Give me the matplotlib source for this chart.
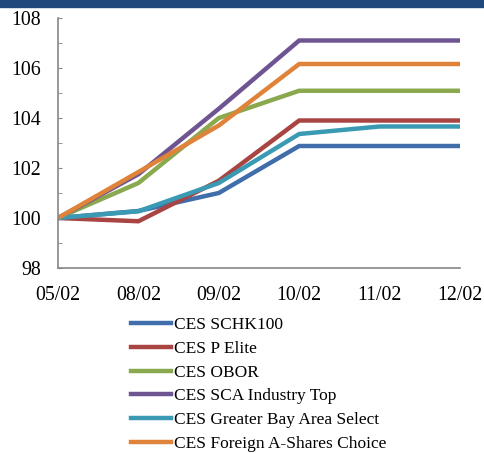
import matplotlib.pyplot as plt
from matplotlib.ticker import MultipleLocator
from matplotlib.patches import Rectangle

# data
dates = ['05/02', '08/02', '09/02', '10/02', '11/02', '12/02']
schk100 = [100, 100.28, 101.0, 102.88, 102.88, 102.88]
p_elite = [100, 99.87, 101.49, 103.9, 103.9, 103.9]
obor = [100, 101.4, 104.0, 105.09, 105.09, 105.09]
sca_top = [100, 101.75, 104.37, 107.1, 107.1, 107.1]
gba_select = [100, 100.27, 101.4, 103.36, 103.66, 103.66]
foreign_a = [100, 101.84, 103.7, 106.16, 106.16, 106.16]

series = [
    ('CES SCHK100', schk100, '#3F6EAA'),
    ('CES P Elite', p_elite, '#A84442'),
    ('CES OBOR', obor, '#8AA84E'),
    ('CES SCA Industry Top', sca_top, '#6E5592'),
    ('CES Greater Bay Area Select', gba_select, '#3A9AB4'),
    ('CES Foreign A-Shares Choice', foreign_a, '#E0833A'),
]

plt.rcParams['font.family'] = ['Liberation Serif', 'DejaVu Serif']

fig = plt.figure(figsize=(4.84, 4.53), dpi=100)
ax = fig.add_axes([58 / 484, 1 - 268 / 453, (460 - 58) / 484, 250 / 453])

x = range(len(dates))
for name, vals, col in series:
    ax.plot(x, vals, color=col, lw=3.2, label=name, solid_joinstyle='miter')

ax.set_xlim(0, len(dates) - 1)
ax.set_ylim(98, 108)
ax.set_xticks(list(x))
ax.set_xticklabels(dates)
ax.yaxis.set_major_locator(MultipleLocator(2))
ax.yaxis.set_minor_locator(MultipleLocator(1))
ax.tick_params(axis='y', which='both', direction='in', length=3, color='#868686',
               labelsize=14.3, pad=12)
ax.tick_params(axis='x', length=0, labelsize=14.3, pad=13)

for s in ['top', 'right']:
    ax.spines[s].set_visible(False)
for s in ['left', 'bottom']:
    ax.spines[s].set_color('#868686')
    ax.spines[s].set_linewidth(1.2)

fig.legend(loc='upper left', bbox_to_anchor=(124 / 484, 1 - 310 / 453),
           frameon=False, fontsize=12.5, handlelength=2.3, handletextpad=0.2,
           labelspacing=0.44, borderaxespad=0)

# dark header band at the top
fig.patches.append(Rectangle((0, 1 - 7 / 453), 1, 7 / 453, transform=fig.transFigure,
                             color='#1F497D', zorder=0))

fig.savefig('out.png', dpi=100)
